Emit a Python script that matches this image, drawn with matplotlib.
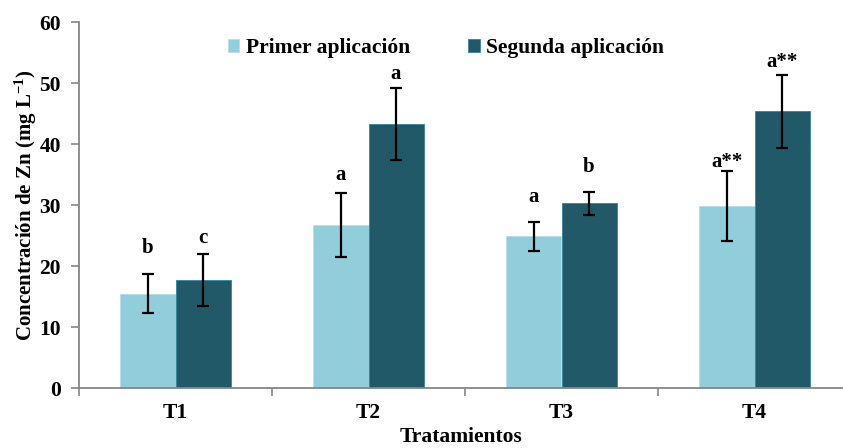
import matplotlib
matplotlib.use("Agg")
import matplotlib.pyplot as plt
import numpy as np

categories = ["T1", "T2", "T3", "T4"]
primer = [15.5, 26.7, 24.9, 29.9]
primer_err = [3.2, 5.25, 2.35, 5.75]
segunda = [17.7, 43.35, 30.3, 45.4]
segunda_err = [4.3, 5.9, 1.9, 6.0]
primer_labels = ["b", "a", "a", "a**"]
primer_label_y = [22.2, 34.1, 30.5, 36.3]
segunda_labels = ["c", "a", "b", "a**"]
segunda_label_y = [23.8, 50.7, 35.5, 52.7]
yticks = [0, 10, 20, 30, 40, 50, 60]

plt.rcParams['font.family'] = ['Liberation Serif', 'DejaVu Serif']
plt.rcParams['font.weight'] = 'bold'
plt.rcParams['mathtext.fontset'] = 'custom'
plt.rcParams['mathtext.rm'] = 'Liberation Serif:bold'
plt.rcParams['mathtext.it'] = 'Liberation Serif:bold'
plt.rcParams['mathtext.bf'] = 'Liberation Serif:bold'

c_light = "#92CDDC"
c_dark = "#215968"
grey = "#868686"

fig = plt.figure(figsize=(8.43, 4.48), dpi=100)
ax = fig.add_axes([79/843, 60/448, (851-79)/843, (388-22.5)/448])

x = np.arange(len(categories))
w = 0.285
b1 = ax.bar(x - w/2, primer, w, color=c_light, edgecolor="#B7DEE8", linewidth=0.6,
            label="Primer aplicación", zorder=2)
b2 = ax.bar(x + w/2, segunda, w, color=c_dark, edgecolor="#31859C", linewidth=0.6,
            label="Segunda aplicación", zorder=2)
ax.errorbar(x - w/2, primer, yerr=primer_err, fmt="none", ecolor="black",
            elinewidth=1.6, capsize=4, capthick=1.6, zorder=3)
ax.errorbar(x + w/2, segunda, yerr=segunda_err, fmt="none", ecolor="black",
            elinewidth=1.6, capsize=4, capthick=1.6, zorder=3)

for xi, ly, lab in zip(x - w/2, primer_label_y, primer_labels):
    ax.text(xi, ly, lab, ha="center", va="baseline", fontsize=15, fontweight="bold")
for xi, ly, lab in zip(x + w/2, segunda_label_y, segunda_labels):
    ax.text(xi, ly, lab, ha="center", va="baseline", fontsize=15, fontweight="bold")

ax.set_xlim(-0.5, len(categories) - 0.5)
ax.set_ylim(0, 60)
ax.set_yticks(yticks)
ax.set_yticklabels([str(t) for t in yticks], fontsize=15.5, fontweight="bold")
ax.set_xticks(np.arange(len(categories)) - 0.5)
ax.set_xticklabels([])
ax.set_xticks(x, minor=True)
ax.set_xticklabels(categories, minor=True, fontsize=15.5, fontweight="bold")
ax.tick_params(axis="x", which="minor", length=0, pad=11)
ax.tick_params(axis="x", which="major", length=6, color=grey, width=1.2, direction="out")
ax.tick_params(axis="y", length=6, color=grey, width=1.2, direction="out", pad=7)

for s in ["top", "right"]:
    ax.spines[s].set_visible(False)
for s in ["left", "bottom"]:
    ax.spines[s].set_color(grey)
    ax.spines[s].set_linewidth(1.3)

ax.set_ylabel("Concentración de Zn (mg L$^{-1}$)", fontsize=15, fontweight="bold", labelpad=0)
fig.text(461/843, 1 - 447/448, "Tratamientos", ha="center", va="bottom",
         fontsize=15.5, fontweight="bold")

fig.legend(handles=[b1, b2], loc="center", bbox_to_anchor=(446/843, 1 - 48/448),
           ncol=2, frameon=False, handlelength=0.55, handleheight=0.55,
           handletextpad=0.3, columnspacing=2.7, prop={"weight": "bold", "size": 15.5})

fig.savefig("out.png", dpi=100)
